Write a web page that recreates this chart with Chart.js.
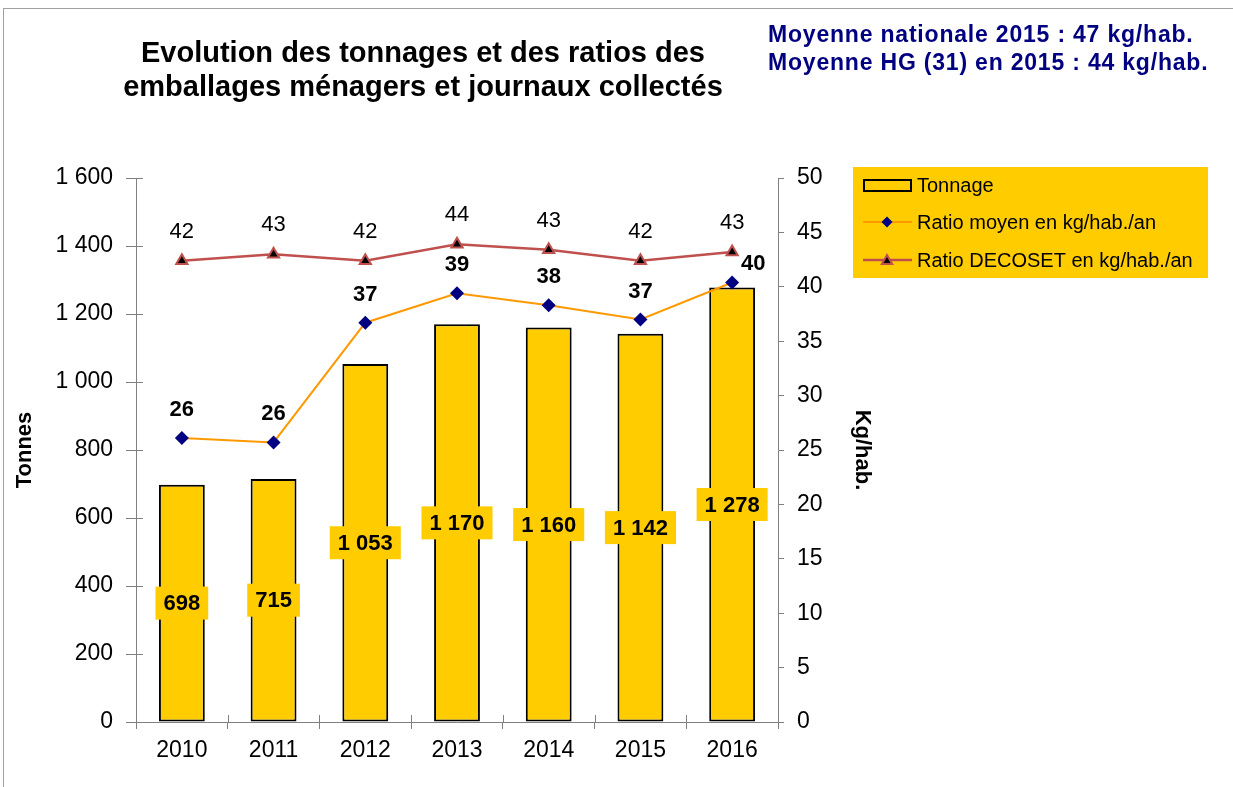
<!DOCTYPE html>
<html><head><meta charset="utf-8">
<script src="https://cdn.jsdelivr.net/npm/chart.js@4.4.1/dist/chart.umd.min.js"></script>
<style>
html,body{margin:0;padding:0;background:#fff;}
#wrap{position:relative;width:1233px;height:787px;overflow:hidden;font-family:Arial,"Liberation Sans",sans-serif;}
#frame{position:absolute;left:3px;top:8px;width:1240px;height:800px;border-top:1px solid #a0a0a0;border-left:1px solid #a0a0a0;}
#title{position:absolute;left:73px;width:700px;top:35px;text-align:center;font-weight:bold;font-size:29px;line-height:34px;color:#000;}
#note{position:absolute;left:768px;top:20px;font-family:Arial,"Liberation Sans",sans-serif;font-weight:bold;font-size:23px;line-height:28px;letter-spacing:0.8px;color:#000080;white-space:nowrap;}
canvas{position:absolute;left:0;top:0;}
</style>
</head><body>
<div id="wrap">
<div id="frame"></div>
<canvas id="c" width="1233" height="787"></canvas>
<div id="title">Evolution des tonnages et des ratios des<br>emballages ménagers et journaux collectés</div>
<div id="note">Moyenne nationale 2015 : 47 kg/hab.<br>Moyenne HG (31) en 2015 : 44 kg/hab.</div>
</div>
<script>
const years = ['2010','2011','2012','2013','2014','2015','2016'];
const tonnage = [698, 715, 1053, 1170, 1160, 1142, 1278];
const ratioMoyen = [26.1, 25.7, 36.7, 39.4, 38.3, 37.0, 40.4];
const ratioDecoset = [42.4, 43.0, 42.4, 43.9, 43.4, 42.4, 43.2];
const seriesNames = ['Tonnage', 'Ratio moyen en kg/hab./an', 'Ratio DECOSET en kg/hab./an'];
const leftTitle = 'Tonnes';
const rightTitle = 'Kg/hab.';

const FONT = 'Arial, "Liberation Sans", sans-serif';
const fmt = v => String(v).replace(/\B(?=(\d{3})+(?!\d))/g, ' ');
const AXIS = '#808080';

function diamond(ctx, x, y, r, fill){
  ctx.beginPath();
  ctx.moveTo(x - r, y); ctx.lineTo(x, y - r); ctx.lineTo(x + r, y); ctx.lineTo(x, y + r); ctx.closePath();
  ctx.fillStyle = fill; ctx.fill();
}
function triangle(ctx, x, y, r, fill, stroke, lw){
  ctx.beginPath();
  for (let k = 0; k < 3; k++){
    const a = k * 2 * Math.PI / 3;
    const px = x + Math.sin(a) * r, py = y - Math.cos(a) * r;
    if (k === 0) ctx.moveTo(px, py); else ctx.lineTo(px, py);
  }
  ctx.closePath();
  ctx.fillStyle = fill; ctx.fill();
  ctx.lineWidth = lw; ctx.strokeStyle = stroke; ctx.stroke();
}

const labelPlugin = {
  id: 'labelsAndLegend',
  afterDraw(chart){
    const ctx = chart.ctx;
    const ca = chart.chartArea;
    ctx.save();
    ctx.strokeStyle = AXIS; ctx.lineWidth = 1;
    const ys = chart.scales.y;
    ys.ticks.forEach((t, i) => {
      const py = Math.round(ys.getPixelForTick(i)) + 0.5;
      ctx.beginPath(); ctx.moveTo(ca.left, py); ctx.lineTo(ca.left + 7, py); ctx.stroke();
    });
    const n = years.length;
    for (let i = 0; i <= n; i++){
      const px = Math.round(ca.left + i * (ca.right - ca.left) / n) + 0.5;
      ctx.beginPath(); ctx.moveTo(px, ca.bottom); ctx.lineTo(px, ca.bottom - 7); ctx.stroke();
    }

    const barMeta = chart.getDatasetMeta(0);
    ctx.font = 'bold 22px ' + FONT;
    ctx.textAlign = 'center'; ctx.textBaseline = 'middle';
    barMeta.data.forEach((el, i) => {
      const t = fmt(tonnage[i]);
      const w = ctx.measureText(t).width + 16;
      const h = 33;
      const cy = (el.y + el.base) / 2;
      ctx.fillStyle = '#FFCC00';
      ctx.fillRect(el.x - w / 2, cy - h / 2, w, h);
      ctx.fillStyle = '#000';
      ctx.fillText(t, el.x, cy + 1);
    });
    const m1 = chart.getDatasetMeta(1);
    ctx.font = 'bold 22px ' + FONT;
    m1.data.forEach((el, i) => {
      const t = String(Math.round(ratioMoyen[i]));
      if (i === n - 1) ctx.fillText(t, el.x + 21, el.y - 19);
      else ctx.fillText(t, el.x, el.y - 28);
    });
    const m2 = chart.getDatasetMeta(2);
    ctx.font = '22px ' + FONT;
    m2.data.forEach((el, i) => {
      ctx.fillText(String(Math.round(ratioDecoset[i])), el.x, el.y - 29);
    });

    const lx = 853, ly = 167, lw = 355, lh = 111;
    ctx.fillStyle = '#FFCC00';
    ctx.fillRect(lx, ly, lw, lh);
    ctx.font = '20px ' + FONT;
    ctx.textAlign = 'left';
    const rows = [185, 222, 260];
    ctx.lineWidth = 2; ctx.strokeStyle = '#000';
    ctx.strokeRect(864, 180, 47, 11);
    ctx.strokeStyle = '#FF9900'; ctx.lineWidth = 2;
    ctx.beginPath(); ctx.moveTo(863, rows[1]); ctx.lineTo(912, rows[1]); ctx.stroke();
    diamond(ctx, 887, rows[1], 5.5, '#000080');
    ctx.strokeStyle = '#C0504D'; ctx.lineWidth = 2.5;
    ctx.beginPath(); ctx.moveTo(863, rows[2]); ctx.lineTo(912, rows[2]); ctx.stroke();
    triangle(ctx, 887, rows[2] + 1, 6, '#000', '#C0504D', 2);
    ctx.fillStyle = '#000';
    seriesNames.forEach((s, i) => ctx.fillText(s, 917, rows[i] + 1));
    ctx.restore();
  }
};

new Chart(document.getElementById('c'), {
  data: {
    labels: years,
    datasets: [
      { type: 'bar', label: seriesNames[0], data: tonnage, yAxisID: 'y', order: 2,
        backgroundColor: '#FFCC00', borderColor: '#000', borderWidth: 2, borderSkipped: false,
        barPercentage: 0.5, categoryPercentage: 1.0 },
      { type: 'line', label: seriesNames[1], data: ratioMoyen, yAxisID: 'y1', order: 1,
        borderColor: '#FF9900', borderWidth: 2, pointStyle: 'rectRot', pointRadius: 7,
        pointBackgroundColor: '#000080', pointBorderColor: '#000080', pointBorderWidth: 0, tension: 0 },
      { type: 'line', label: seriesNames[2], data: ratioDecoset, yAxisID: 'y1', order: 0,
        borderColor: '#C0504D', borderWidth: 2.5, pointStyle: 'triangle', pointRadius: 6.5,
        pointBackgroundColor: '#000', pointBorderColor: '#C0504D', pointBorderWidth: 2, tension: 0 }
    ]
  },
  options: {
    responsive: false,
    animation: false,
    layout: { padding: { left: 0, right: 355, top: 178, bottom: 0 } },
    plugins: { legend: { display: false }, tooltip: { enabled: false }, title: { display: false } },
    scales: {
      x: {
        type: 'category',
        offset: true,
        afterFit(s){ s.height = 65; },
        grid: { display: true, drawOnChartArea: false, drawTicks: true, tickLength: 7, offset: true, color: AXIS },
        border: { display: true, color: AXIS, width: 1 },
        ticks: { color: '#000', font: { size: 23, family: FONT }, padding: 8, maxRotation: 0 }
      },
      y: {
        position: 'left', min: 0, max: 1600,
        afterFit(s){ s.width = 136; },
        grid: { display: true, drawOnChartArea: false, drawTicks: true, tickLength: 10, color: AXIS },
        border: { display: true, color: AXIS, width: 1 },
        ticks: { stepSize: 200, color: '#000', font: { size: 23, family: FONT }, padding: 13,
                 callback: v => fmt(v) },
        title: { display: true, text: leftTitle, color: '#000', font: { size: 22, weight: 'bold', family: FONT },
                 padding: { top: 12, bottom: 0 } }
      },
      y1: {
        position: 'right', min: 0, max: 50,
        afterFit(s){ s.width = 100; },
        grid: { display: true, drawOnChartArea: false, drawTicks: true, tickLength: 6, color: AXIS },
        border: { display: true, color: AXIS, width: 1 },
        ticks: { stepSize: 5, color: '#000', font: { size: 23, family: FONT }, padding: 13 },
        title: { display: true, text: rightTitle, color: '#000', font: { size: 22, weight: 'bold', family: FONT },
                 padding: { top: 3, bottom: 0 } }
      }
    }
  },
  plugins: [labelPlugin]
});
</script>
</body></html>
